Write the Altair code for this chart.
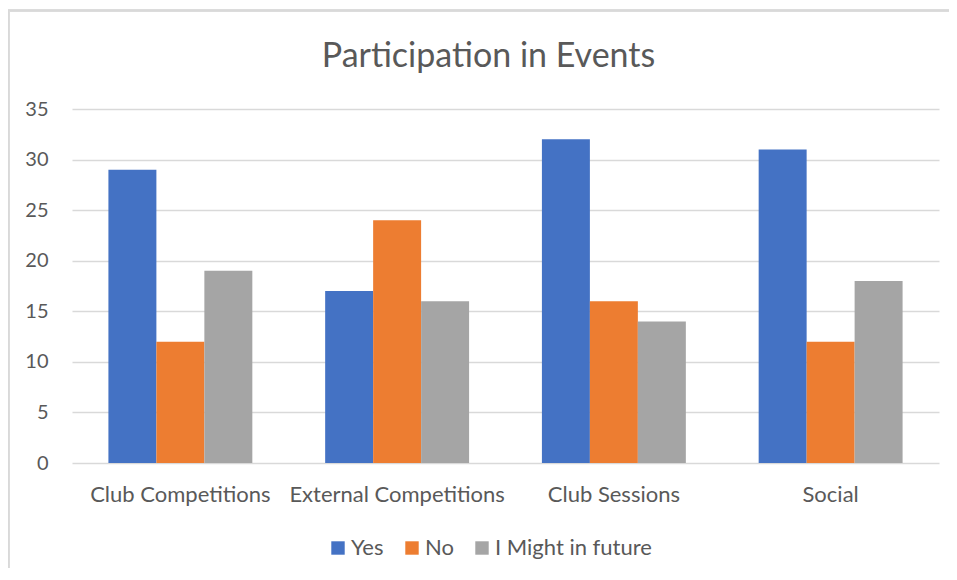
import altair as alt
import pandas as pd

categories = ["Club Competitions", "External Competitions", "Club Sessions", "Social"]
series = ["Yes", "No", "I Might in future"]
yes_vals = [29, 17, 32, 31]
no_vals = [12, 24, 16, 12]
might_vals = [19, 16, 14, 18]
colors = ["#4472C4", "#ED7D31", "#A5A5A5"]
y_ticks = [0, 5, 10, 15, 20, 25, 30, 35]

rows = []
for s, vals in zip(series, [yes_vals, no_vals, might_vals]):
    for c, v in zip(categories, vals):
        rows.append({"category": c, "series": s, "value": v})
df = pd.DataFrame(rows)

FONT = "Lato"
TXT = "#595959"
GRID = "#D9D9D9"

bars = alt.Chart(df).mark_bar().encode(
    x=alt.X("category:N", sort=categories, title=None,
            scale=alt.Scale(paddingInner=0.336, paddingOuter=0.168),
            axis=alt.Axis(labelAngle=0, labelFontSize=22, labelFont=FONT,
                          labelColor=TXT, domain=False, ticks=False, tickSize=0,
                          labelPadding=21, labelLimit=400)),
    xOffset=alt.XOffset("series:N", sort=series),
    y=alt.Y("value:Q", title=None,
            scale=alt.Scale(domain=[0, 35], nice=False),
            axis=alt.Axis(values=y_ticks, labelFontSize=20, labelFont=FONT,
                          labelColor=TXT, domain=False, ticks=False, tickSize=0,
                          labelPadding=24, gridColor=GRID, gridWidth=1.3)),
    color=alt.Color("series:N", sort=series, title=None,
                    scale=alt.Scale(domain=series, range=colors),
                    legend=alt.Legend(orient="none", direction="horizontal",
                                      legendX=255, legendY=428,
                                      symbolType="square", symbolSize=180,
                                      symbolStrokeWidth=0,
                                      labelFontSize=22, labelFont=FONT,
                                      labelColor=TXT, labelOffset=2,
                                      columnPadding=17, padding=0)),
)

top_border = alt.Chart(df).mark_rule(color=GRID, strokeWidth=1.5).encode(
    x=alt.value(-64), x2=alt.value(900), y=alt.value(-98.5))
left_border = alt.Chart(df).mark_rule(color=GRID, strokeWidth=1.5).encode(
    x=alt.value(-63.5), y=alt.value(-99), y2=alt.value(470))

chart = alt.layer(bars, top_border, left_border).properties(
    width=867, height=354,
    autosize=alt.AutoSizeParams(type="none"),
    padding={"left": 64, "top": 101, "right": 10, "bottom": 105},
    title=alt.TitleParams("Participation in Events", fontSize=34, font=FONT,
                          color=TXT, fontWeight="normal", anchor="middle",
                          baseline="alphabetic", offset=-92, dx=-17),
).configure_view(stroke=None)

chart.save("out.html", embed_options={"renderer": "svg", "actions": False})
